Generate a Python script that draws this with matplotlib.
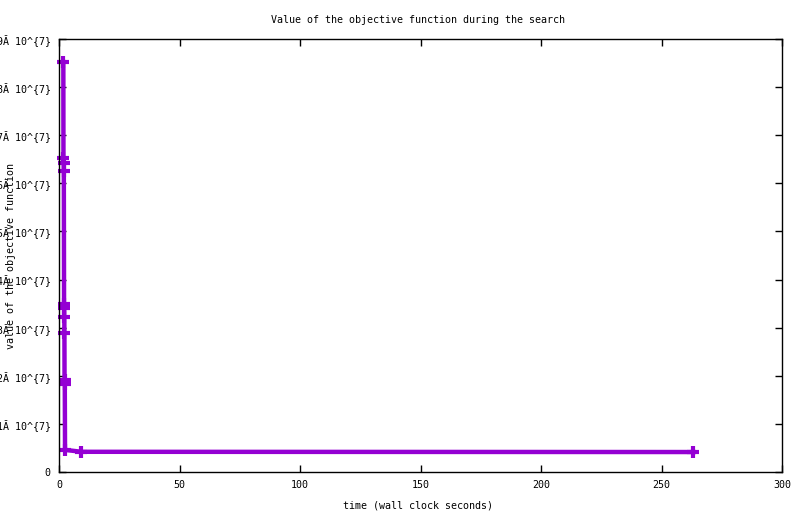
import matplotlib
matplotlib.use("Agg")
import matplotlib.pyplot as plt
from matplotlib.ticker import FixedLocator

# Data
time_s = [1.8, 1.85, 1.95, 2.0, 2.1, 2.15, 2.2, 2.25, 2.3, 2.4, 2.5, 9.3, 263.2]
objective = [8.52e7, 6.53e7, 6.43e7, 6.26e7, 3.49e7, 3.41e7, 3.22e7, 2.88e7,
             1.92e7, 1.82e7, 0.46e7, 0.42e7, 0.415e7]

x_ticks = [0, 50, 100, 150, 200, 250, 300]
y_ticks = [0, 1e7, 2e7, 3e7, 4e7, 5e7, 6e7, 7e7, 8e7, 9e7]
y_tick_labels = ["0"] + [f"{i}Ă 10^{{7}}" for i in range(1, 10)]

title = "Value of the objective function during the search"
x_label = "time (wall clock seconds)"
y_label = "value of the objective function"

W, H = 800, 514
fig = plt.figure(figsize=(W / 100, H / 100), dpi=100)
left, right, top, bottom = 59, 782, 39, 472
ax = fig.add_axes([left / W, (H - bottom) / H, (right - left) / W, (bottom - top) / H])

FONT = "DejaVu Sans Mono"
FS = 7.2
color = "#9400D3"

ax.plot(time_s, objective, color=color, linewidth=3.2, marker="+",
        markersize=8.5, markeredgewidth=3.0, solid_joinstyle="miter", clip_on=False)

ax.set_xlim(0, 300)
ax.set_ylim(0, 9e7)
ax.xaxis.set_major_locator(FixedLocator(x_ticks))
ax.yaxis.set_major_locator(FixedLocator(y_ticks))
ax.set_xticklabels([str(v) for v in x_ticks], fontfamily=FONT, fontsize=FS)
ax.set_yticklabels(y_tick_labels, fontfamily=FONT, fontsize=FS)
ax.tick_params(direction="in", length=5, width=1, top=True, right=True,
               color="black", pad=6)
for s in ax.spines.values():
    s.set_linewidth(1)
    s.set_color("black")

fig.text(418 / W, 1 - 20 / H, title, ha="center", va="center", fontfamily=FONT, fontsize=FS)
fig.text(418 / W, 1 - 505 / H, x_label, ha="center", va="center", fontfamily=FONT, fontsize=FS)
fig.text(11 / W, 1 - 256 / H, y_label, ha="center", va="center", rotation=90,
         fontfamily=FONT, fontsize=FS)

fig.savefig("out.png", dpi=100)
